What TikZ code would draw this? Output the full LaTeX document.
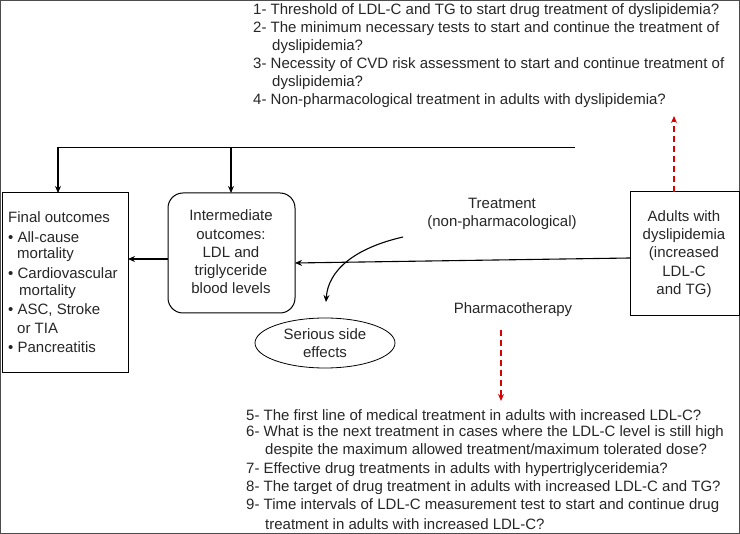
\documentclass[tikz,border=0pt]{standalone}
\usepackage{fontspec}
\setmainfont{Liberation Sans}
\usetikzlibrary{arrows.meta}
\begin{document}
\begin{tikzpicture}[x=1pt,y=-1pt,
  every node/.style={font=\fontsize{15}{18.3}\selectfont, inner sep=0pt, text=black!85},
  ln/.style={anchor=west},
  box/.style={draw, line width=1pt},
  arr/.style={-{Stealth[length=7pt,width=6pt]}, line width=1.1pt},
  red/.style={-{Stealth[length=7pt,width=6pt]}, line width=1.4pt, draw=red!85!black, dash pattern=on 6pt off 4pt}]
\useasboundingbox (0,0) rectangle (740,534);
\draw[line width=0.8pt, black!70] (0.5,0.5) rectangle (739.5,533.5);
% boxes
\draw[box] (2,193) rectangle (128,373);
\draw[box, rounded corners=15pt] (168,193) rectangle (295,313);
\draw[box] (630,192) rectangle (739,316);
\draw[line width=0.8pt] (325,343) ellipse (70 and 25);
\coordinate (fin) at (128,259);
\coordinate (intL) at (168,259);
\coordinate (intR) at (295,263);
\coordinate (adL) at (630,258);
\coordinate (tl) at (58,147);
\coordinate (tr) at (575,147);
\coordinate (tm) at (231,147);
\coordinate (fintop) at (58,193);
\coordinate (inttop) at (231,193);
\coordinate (cs) at (403,237);
\coordinate (ce) at (326,302);
\coordinate (rd1) at (501,330);
\coordinate (rd2) at (501,401);
\coordinate (ru1) at (674,192);
\coordinate (ru2) at (674,116);
\draw[line width=0.8pt] (tl) -- (tr);
\draw[arr] (tl) -- (fintop);
\draw[arr] (tm) -- (inttop);
\draw[arr] (adL) -- (intR);
\draw[arr] (intL) -- (fin);
\draw[arr] (cs) .. controls (355,248) and (328,270) .. (ce);
\draw[red] (rd1) -- (rd2);
\draw[red] (ru1) -- (ru2);
% texts
\node[ln] (f1) at (8,217) {Final outcomes};
\node[ln] (f2) at (8,237) {• All-cause};
\node[ln] (f3) at (17,255) {mortality};
\node[ln] (f4) at (8,273) {• Cardiovascular};
\node[ln] (f5) at (19,292) {mortality};
\node[ln] (f6) at (8,310) {• ASC, Stroke};
\node[ln] (f7) at (17,328) {or TIA};
\node[ln] (f8) at (8,347) {• Pancreatitis};
\node[align=center] (im) at (231,252) {Intermediate\\outcomes:\\LDL and\\triglyceride\\blood levels};
\node[align=center] (ad) at (684,254) {Adults with\\dyslipidemia\\(increased\\LDL-C\\and TG)};
\node[align=center] (tr) at (502,214) {Treatment\\(non-pharmacological)};
\node (ph) at (513,310) {Pharmacotherapy};
\node[align=center] (se) at (325,343) {Serious side\\effects};
\node[ln] (q1) at (253,11) {1- Threshold of LDL-C and TG to start drug treatment of dyslipidemia?};
\node[ln] (q2) at (253,29) {2- The minimum necessary tests to start and continue the treatment of};
\node[ln] (q2b) at (272,47) {dyslipidemia?};
\node[ln] (q3) at (253,65) {3- Necessity of CVD risk assessment to start and continue treatment of};
\node[ln] (q3b) at (272,83) {dyslipidemia?};
\node[ln] (q4) at (253,101) {4- Non-pharmacological treatment in adults with dyslipidemia?};
\node[ln] (q5) at (246,415) {5- The first line of medical treatment in adults with increased LDL-C?};
\node[ln] (q6) at (246,433) {6- What is the next treatment in cases where the LDL-C level is still high};
\node[ln] (q6b) at (265,451) {despite the maximum allowed treatment/maximum tolerated dose?};
\node[ln] (q7) at (246,470) {7- Effective drug treatments in adults with hypertriglyceridemia?};
\node[ln] (q8) at (246,488) {8- The target of drug treatment in adults with increased LDL-C and TG?};
\node[ln] (q9) at (246,506) {9- Time intervals of LDL-C measurement test to start and continue drug};
\node[ln] (q9b) at (265,524) {treatment in adults with increased LDL-C?};
\end{tikzpicture}
\end{document}
